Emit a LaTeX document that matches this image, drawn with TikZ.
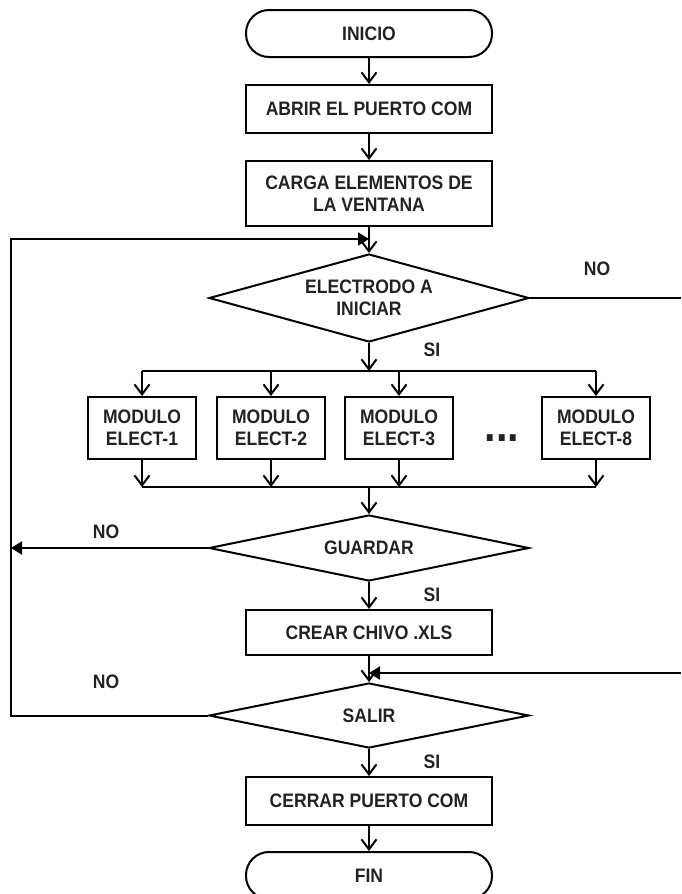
\documentclass[tikz,border=0pt]{standalone}
\usepackage{fontspec}
\setmainfont[FakeStretch=0.9]{Liberation Sans}
\usepackage{tikz}
\usetikzlibrary{arrows.meta,positioning,shapes.geometric}
\definecolor{inkgrey}{HTML}{222222}
\tikzset{
  flowtext/.style={font=\bfseries\fontsize{19.5}{22.5}\selectfont, text=inkgrey, align=center},
  procbox/.style={
    rectangle, draw=black, line width=2pt, flowtext,
    minimum width=246pt, minimum height=48pt, inner sep=0pt
  },
  termbox/.style={procbox, rounded corners=23pt, minimum height=47pt},
  modbox/.style={procbox, minimum width=108pt, minimum height=62pt},
  decbox/.style={
    diamond, draw=black, line width=2pt, flowtext, inner sep=0pt,
    minimum width=320pt, aspect=4
  },
  flowlabel/.style={flowtext, inner sep=0pt},
  flowline/.style={line width=2pt},
  flowarrow/.style={flowline, -{Straight Barb[length=10pt,width=15pt,line width=2pt]}},
  backarrow/.style={flowline, -{Triangle[length=11pt,width=13pt]}}
}
\begin{document}
\begin{tikzpicture}[x=1pt,y=1pt]
\useasboundingbox (0,0) rectangle (681,-894);

% main column
\node[termbox] (inicio) at (369,-33.5) {INICIO};
\node[procbox, below=26pt of inicio] (abrir) {ABRIR EL PUERTO COM};
\node[procbox, minimum height=65pt, below=26pt of abrir] (carga) {CARGA ELEMENTOS DE\\LA VENTANA};
\node[decbox, minimum height=88pt, below=26pt of carga] (elec) {ELECTRODO A\\INICIAR};

% electrode modules
\node[modbox] (m1) at (142,-428) {MODULO\\ELECT-1};
\node[modbox] (m2) at (271,-428) {MODULO\\ELECT-2};
\node[modbox] (m3) at (399,-428) {MODULO\\ELECT-3};
\node[modbox] (m8) at (596,-428) {MODULO\\ELECT-8};
\node[flowlabel, font=\bfseries\fontsize{46}{46}\selectfont, anchor=base] (dots) at (502,-441) {...};

\node[decbox, minimum height=66pt] (guardar) at (369,-548) {GUARDAR};
\node[procbox, minimum height=45pt, below=27pt of guardar] (crear) {CREAR CHIVO .XLS};
\node[decbox, minimum height=65pt, below=26pt of crear] (salir) {SALIR};
\node[procbox, below=27pt of salir] (cerrar) {CERRAR PUERTO COM};
\node[termbox, below=25pt of cerrar] (fin) {FIN};

% answer labels
\node[flowlabel] (no1) at (597,-269) {NO};
\node[flowlabel] (si1) at (432,-350) {SI};
\node[flowlabel] (no2) at (106,-532) {NO};
\node[flowlabel] (si2) at (432,-595) {SI};
\node[flowlabel] (no3) at (106,-682) {NO};
\node[flowlabel] (si3) at (432,-762) {SI};

% junction points
\coordinate (topbus) at (369,-371);
\coordinate (botbus) at (369,-487);
\coordinate (noR) at (681,-298);
\coordinate (inR) at (681,-673);
\coordinate (leftG) at (11,-548);
\coordinate (leftT) at (11,-239);

\draw[flowarrow] (inicio) -- (abrir);
\draw[flowarrow] (abrir) -- (carga);
\draw[flowarrow] (carga) -- (elec);
\draw[flowline] (elec.east) -- (noR);
\draw[flowarrow] (elec) -- (topbus);
\draw[flowline] (m1.north |- topbus) -- (m8.north |- topbus);
\draw[flowarrow] (m1.north |- topbus) -- (m1);
\draw[flowarrow] (m2.north |- topbus) -- (m2);
\draw[flowarrow] (m3.north |- topbus) -- (m3);
\draw[flowarrow] (m8.north |- topbus) -- (m8);
\draw[flowarrow] (m1) -- (m1.south |- botbus);
\draw[flowarrow] (m2) -- (m2.south |- botbus);
\draw[flowarrow] (m3) -- (m3.south |- botbus);
\draw[flowarrow] (m8) -- (m8.south |- botbus);
\draw[flowline] (m1.south |- botbus) -- (m8.south |- botbus);
\draw[flowarrow] (botbus) -- (guardar);
\draw[backarrow] (guardar.west) -- (leftG);
\draw[flowarrow] (guardar) -- (crear);
\draw[flowarrow] (crear) -- (salir);
\draw[backarrow] (inR) -- (crear.south |- inR);
\draw[backarrow] (salir.west) -| (leftT) -- (carga.south |- leftT);
\draw[flowarrow] (salir) -- (cerrar);
\draw[flowarrow] (cerrar) -- (fin);
\end{tikzpicture}
\end{document}
